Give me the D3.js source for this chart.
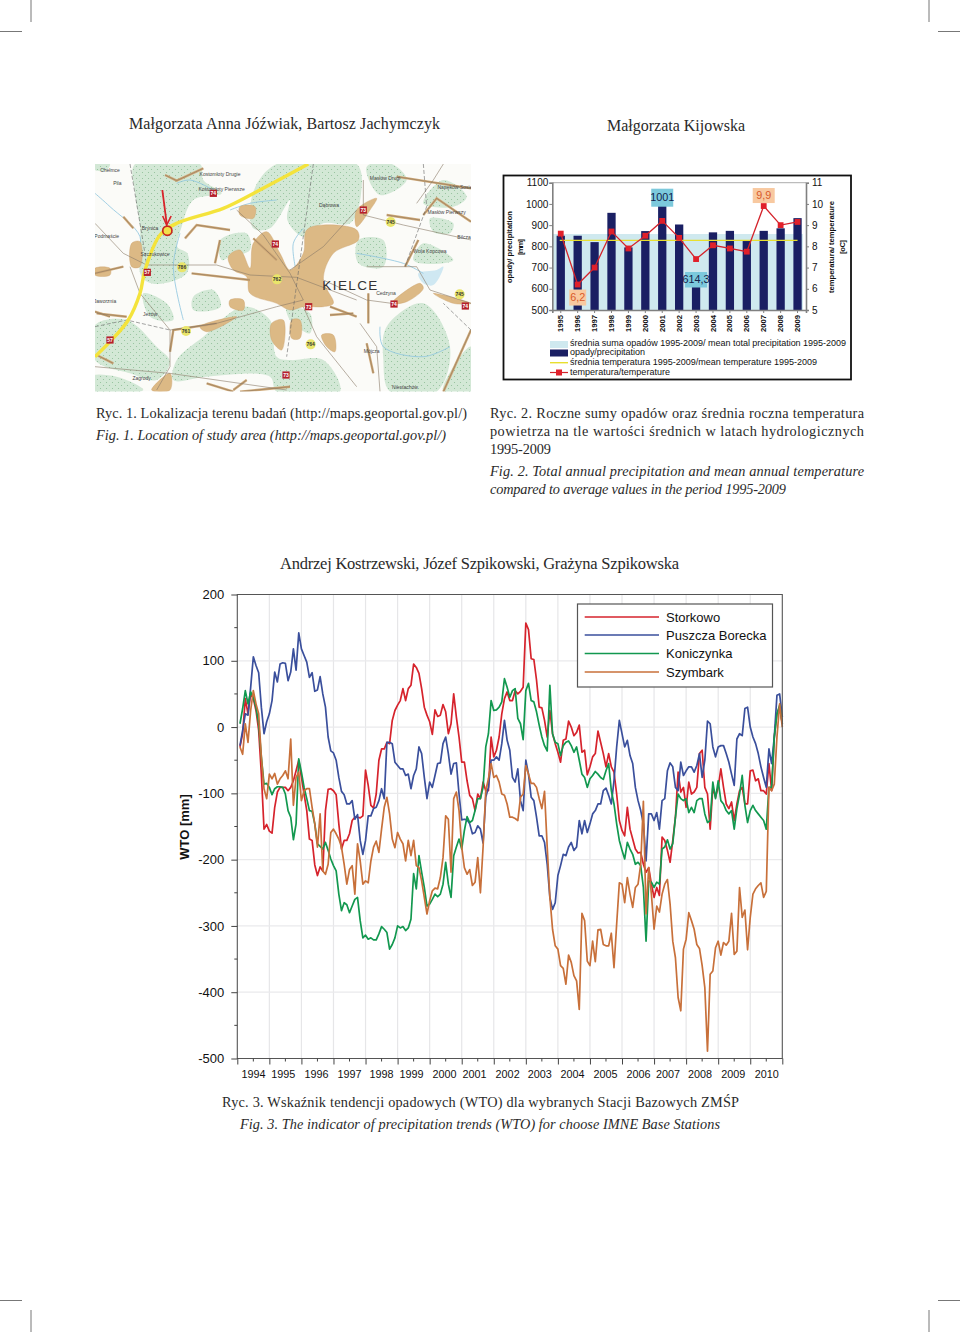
<!DOCTYPE html>
<html><head><meta charset="utf-8">
<style>html,body{margin:0;padding:0;background:#fff}svg{display:block}</style>
<script src="https://cdn.jsdelivr.net/npm/d3@7"></script></head><body>
<svg id="page" width="960" height="1332"></svg>
<script>
// ---------- Fig. 3 data (monthly, mm) ----------
const wtoYears=[1994,1995,1996,1997,1998,1999,2000,2001,2002,2003,2004,2005,2006,2007,2008,2009,2010];
const wtoYearLabelMonth=[4.9,16,28.5,40.8,52.8,64,76.4,87.6,100,112,124.3,136.6,149,160,172,184.5,197];
const wtoStations=["Storkowo","Puszcza Borecka","Koniczynka","Szymbark"];
const storkowo=[-30,-10,43,20,50,43,25,-5,-71,-154,-147,-157,-160,-121,-98,-91,-91,-91,-96,-91,-81,-66,-50,-76,-101,-126,-169,-171,-208,-224,-211,-217,-126,-94,-93,-96,-102,-146,-184,-171,-171,-161,-141,-136,-136,-137,-134,-65,-88,-118,-122,-101,-50,-33,-33,-23,-25,10,25,33,40,58,40,58,63,95,90,81,58,30,18,8,-11,26,16,18,34,23,-10,5,50,15,-15,-53,-53,-81,-103,-108,-126,-101,-108,-83,-96,-96,-15,-45,-35,-15,20,43,53,40,40,55,50,54,60,157,147,103,102,71,30,29,10,-15,25,-10,-25,-38,-53,-20,-18,9,0,-13,-8,3,-38,-35,-72,-60,-45,-40,-6,-23,-40,-60,-40,-60,-68,-101,-141,-156,-164,-121,-154,-169,-184,-190,-189,-207,-219,-212,-237,-257,-242,-254,-166,-171,-186,-204,-171,-136,-68,-98,-91,-121,-83,-101,-98,-91,-40,-35,-91,-101,-154,-91,-106,-91,-63,-91,-116,-123,-113,-141,-116,-96,-91,-116,-116,-66,-65,-81,-78,-96,-96,-101,-55,-96,-15,20,30,5];
const puszczaBorecka=[-28,-5,20,18,60,106,93,82,30,-10,8,20,40,83,68,95,97,96,70,83,118,86,142,118,108,98,75,82,54,56,76,50,30,-15,-36,-39,-50,-76,-97,-102,-116,-116,-111,-139,-132,-171,-192,-171,-134,-134,-123,-121,-111,-93,-108,-23,-23,-25,-53,-58,-63,-63,-73,-71,-93,-73,-63,-30,-40,-76,-108,-83,-91,-73,-55,-54,-25,-15,-40,-71,-55,-54,-101,-140,-139,-140,-146,-161,-159,-149,-154,-175,-106,-91,-50,-50,-45,-50,-25,10,-20,-35,-76,-83,-63,-111,-126,-50,-71,-106,-111,-136,-164,-164,-174,-207,-257,-275,-265,-224,-209,-192,-194,-181,-174,-186,-181,-141,-161,-141,-159,-146,-131,-126,-116,-116,-96,-92,-103,-116,-81,-30,10,-10,-30,-20,-43,-55,-91,-111,-126,-146,-202,-131,-131,-141,-129,-154,-111,-108,-66,-54,-60,-91,-96,-53,-73,-66,-60,-60,-68,-58,-40,-76,-50,9,5,-30,-45,-30,-28,-28,-40,-53,-71,-88,-18,-10,-13,28,30,0,-15,-25,-40,-60,-76,-91,-33,-55,-15,48,50,15];
const koniczynka=[5,28,55,35,53,45,30,5,-45,-86,-85,-91,-102,-93,-90,-90,-91,-101,-126,-136,-170,-146,-48,-68,-91,-108,-126,-127,-146,-176,-180,-184,-174,-186,-199,-209,-217,-252,-277,-265,-268,-280,-270,-260,-257,-292,-318,-314,-320,-318,-321,-321,-312,-301,-305,-310,-335,-328,-318,-300,-303,-301,-307,-303,-290,-221,-244,-194,-219,-242,-270,-267,-260,-252,-256,-252,-237,-204,-237,-257,-194,-181,-169,-184,-156,-135,-144,-141,-126,-108,-108,-91,-30,-10,40,25,26,30,38,73,60,45,55,58,13,5,-19,55,66,40,38,23,3,-15,-28,-36,63,-10,-23,-25,-43,-28,-23,-21,-28,-38,-30,-50,-71,-76,-91,-78,-73,-67,-71,-76,-79,-66,-55,-96,-116,-146,-171,-186,-199,-174,-184,-192,-207,-204,-209,-242,-323,-232,-234,-242,-234,-237,-184,-181,-170,-184,-176,-136,-101,-108,-111,-108,-129,-121,-129,-111,-108,-108,-131,-144,-141,-83,-108,-81,-111,-116,-126,-131,-126,-154,-123,-101,-73,-118,-144,-126,-118,-126,-131,-136,-141,-154,-91,-91,-15,20,33,5];
const szymbark=[-30,-41,5,-23,25,55,35,20,-45,-93,-108,-71,-78,-70,-86,-78,-73,-66,-78,-18,-118,-76,-68,-111,-96,-93,-93,-121,-146,-181,-131,-217,-222,-207,-159,-154,-161,-169,-181,-207,-237,-215,-209,-252,-176,-202,-237,-232,-235,-202,-181,-172,-189,-154,-121,-106,-131,-169,-182,-159,-169,-176,-202,-171,-194,-171,-209,-212,-232,-257,-282,-262,-247,-243,-244,-227,-197,-134,-139,-219,-108,-98,-126,-181,-212,-222,-215,-239,-234,-197,-250,-181,-96,-78,-55,-76,-73,-83,-101,-103,-116,-136,-136,-138,-141,-106,-101,-58,-71,-85,-85,-91,-108,-123,-97,-181,-257,-305,-330,-335,-360,-364,-388,-344,-355,-375,-383,-426,-281,-292,-353,-360,-323,-354,-306,-305,-328,-330,-330,-311,-363,-297,-235,-237,-265,-227,-252,-272,-242,-237,-207,-112,-282,-212,-252,-305,-270,-279,-252,-237,-230,-267,-323,-348,-408,-428,-335,-320,-280,-292,-305,-328,-334,-360,-393,-489,-373,-368,-333,-323,-344,-325,-329,-323,-281,-343,-338,-242,-287,-276,-336,-287,-252,-244,-239,-235,-257,-248,-91,-96,-86,-15,35,0];
const wtoColors=["#d6232c","#3a4f9c","#12984f","#c8703a"];
const wtoTicks=[200,100,0,-100,-200,-300,-400,-500];

// ---------- Fig. 2 data ----------
const hydroYears=["1995","1996","1997","1998","1999","2000","2001","2002","2003","2004","2005","2006","2007","2008","2009"];
const precipitation=[850,850,820,958,795,872,1001,903,614.3,866,873,825,873,885,933];
const temperature=[8.6,6.2,7.0,8.7,7.9,8.5,9.2,8.4,7.4,8.05,7.9,7.75,9.9,9.0,9.15];
const meanPrecipitation=858;
const meanTemperature=8.28;
const precipTicks=[500,600,700,800,900,1000,1100];
const tempTicks=[5,6,7,8,9,10,11];
const legendFig2=["średnia suma opadów 1995-2009/ mean total precipitation 1995-2009","opady/precipitation","średnia temperatura 1995-2009/mean temperature 1995-2009","temperatura/temperature"];

// ---------- Fig. 1 map features (map units) ----------
const forests=[
[[135,12],[330,12],[340,60],[395,100],[310,120],[275,200],[262,260],[292,280],[290,340],[200,372],[155,350],[150,200],[135,100]],
[[490,95],[560,12],[800,12],[812,110],[780,190],[700,190],[640,230],[592,180],[600,120],[540,205],[490,205]],
[[15,495],[110,480],[200,560],[240,605],[200,660],[120,640],[15,600]],
[[250,660],[260,600],[340,530],[460,440],[540,480],[560,590],[600,600],[700,600],[750,695],[560,695],[540,650],[350,650]],
[[890,500],[1000,430],[1080,560],[1040,695],[900,695],[880,600]],
[[805,240],[880,240],[880,320],[805,310]],
[[1090,620],[1143,560],[1143,695],[1060,695]],
[[830,20],[905,12],[950,60],[870,105]],
[[1000,250],[1090,300],[1020,312],[970,300]],
[[310,410],[370,390],[392,440],[310,450]],
[[390,240],[470,220],[480,270],[420,290],[395,300]],
[[1020,175],[1090,190],[1080,220],[1030,215]],
[[15,12],[60,12],[50,30],[15,30]],
[[590,440],[660,460],[660,520],[600,480]],
[[160,400],[230,430],[250,480],[180,470]],
[[1000,130],[1060,60],[1130,110],[1090,140]],
[[0,650],[80,650],[160,690],[15,695]]];
const urban=[
[[415,290],[450,270],[480,325],[490,250],[530,215],[570,280],[600,330],[640,280],[650,210],[700,195],[800,210],[805,240],[730,280],[700,360],[730,430],[700,440],[640,440],[600,450],[560,430],[480,400],[470,350],[430,330]],
[[545,490],[580,480],[575,570],[545,540]],[[605,480],[630,480],[630,535],[605,535]],[[420,420],[460,420],[460,450],[420,440]],
[[695,525],[730,525],[735,575],[710,560]],[[905,430],[990,370],[1000,385],[950,425]],[[1030,400],[1143,430],[1090,430]],
[[330,500],[440,470],[350,515]],[[15,325],[60,325],[60,345],[15,345]],[[125,250],[150,245],[150,320],[125,320]],
[[450,140],[495,140],[490,175],[450,165]],[[800,150],[860,115],[840,150],[800,200]],[[185,690],[240,640],[240,690]]];
const brownRoads=[
[[225,45],[260,62],[340,25]],[[920,50],[1143,85]],[[945,320],[985,240]],[[1000,165],[1040,115],[1143,185]],[[890,165],[990,180]],
[[285,235],[320,195],[420,210]],[[375,310],[390,240]],[[240,575],[250,510],[380,490]],[[830,550],[850,640]],[[1060,695],[1143,510]],
[[350,670],[430,695]],[[450,695],[600,680]],[[835,400],[835,490]],[[720,440],[800,470]],[[20,460],[110,470]],[[100,170],[130,205]],
[[20,585],[70,610]],[[720,465],[790,460]],[[15,340],[100,320]],[[305,340],[480,360]],[[490,235],[560,300]],[[430,690],[470,660]],[[15,455],[60,470]]];
const thinRoads=[
[[170,315],[380,315],[480,345],[620,352],[800,420]],[[440,150],[520,225],[600,340],[640,420]],[[240,510],[380,490],[560,440],[640,420]],
[[820,165],[940,195],[1143,240]],[[830,320],[980,320],[1020,390],[1143,430]],[[640,440],[680,530],[800,680]],[[240,510],[240,620],[200,690]],
[[810,490],[860,560],[870,695]],[[15,620],[240,640],[590,690]],[[15,190],[100,280],[170,315]],[[700,360],[830,420],[905,430]],
[[600,330],[700,260],[800,150]],[[820,60],[820,165]],[[980,130],[1030,60],[1060,12]],[[120,320],[150,400],[240,510]]];
const railLines=[[[670,12],[590,590]],[[120,12],[160,250],[170,315]],[[1000,12],[1010,140],[945,320]],[[1143,510],[1060,430]],[[15,500],[110,480],[240,510]]];
const rivers=[[[15,100],[60,140],[150,230],[140,300]],[[260,70],[300,60],[370,90]],[[270,220],[250,320],[280,480]],[[800,280],[940,310],[1000,340]],[[870,500],[880,560],[1000,590],[1080,560]],[[620,340],[610,250],[640,205]],[[560,120],[480,130],[420,150]]];
const lakeShape=[[985,340],[1040,330],[1060,320],[1030,375],[1000,370]];
const motorway=[[15,590],[60,545],[115,480],[150,400],[165,330],[210,225],[260,190],[400,145],[500,95],[655,12]];
const arrowShaft=[[217,90],[230,190]];
const mapPlaces=[["Chełmce",60,35],["Pila",82,76],["Kostomłoty Drugie",390,47],["Kostomłoty Pierwsze",395,92],["Dąbrowa",717,140],["Masłów Drugi",885,60],["Napęków-Sosie",1095,86],["Masłów Pierwszy",1070,163],["Bilcza",1122,236],["Brynica",180,210],["Podmaście",50,235],["Szczukowice",195,288],["Wola Kopcowa",1020,278],["Jaworznia",45,428],["Jeżów",180,467],["Cedzyna",888,406],["Mójcza",845,578],["Zagrody",155,660],["Niestachów",945,688]];
const mapRedShields=[["74",370,100],["73",820,150],["74",556,252],["57",172,337],["73",656,440],["74",912,432],["74",1126,438],["57",60,540],["73",588,645]];
const mapYellowShields=[["745",902,186],["786",276,322],["762",561,358],["745",1109,403],["761",288,513],["764",662,553]];

// ---------- page ----------
const svg=d3.select("#page");
const ink="#2a2a2a";
const serif="'Liberation Serif',serif", sans="'Liberation Sans',Arial,sans-serif";

// crop marks
[[31,0,31,22],[0,31.5,22,31.5],[929,0,929,22],[938,31.5,960,31.5],[31,1310,31,1332],[0,1300.5,22,1300.5],[929,1310,929,1332],[938,1300.5,960,1300.5]]
 .forEach(([a,b,c,d])=>svg.append("line").attr("x1",a).attr("y1",b).attr("x2",c).attr("y2",d).attr("stroke","#777").attr("stroke-width",1));

// running text
const texts=[
["Małgorzata Anna Jóźwiak, Bartosz Jachymczyk",129,129,311,16,0],
["Małgorzata Kijowska",607,131,138,16,0],
["Ryc. 1. Lokalizacja terenu badań (http://maps.geoportal.gov.pl/)",96,417.5,371,14.3,0],
["Fig. 1. Location of study area (http://maps.geoportal.gov.pl/)",96,440,350,14.3,1],
["Ryc. 2. Roczne sumy opadów oraz średnia roczna temperatura",490,417.5,374,14.3,0],
["powietrza na tle wartości średnich w latach hydrologicznych",490,435.5,374,14.3,0],
["1995-2009",490,453.5,61,14.3,0],
["Fig. 2. Total annual precipitation and mean annual temperature",490,476,374,14.3,1],
["compared to average values in the period 1995-2009",490,494,296,14.3,1],
["Andrzej Kostrzewski, Józef Szpikowski, Grażyna Szpikowska",280,569,399,16.5,0],
["Ryc. 3. Wskaźnik tendencji opadowych (WTO) dla wybranych Stacji Bazowych ZMŚP",222,1107,517,14.3,0],
["Fig. 3. The indicator of precipitation trends (WTO) for choose IMNE Base Stations",240,1129,480,14.3,1]];
svg.append("g").selectAll("text").data(texts).join("text")
 .attr("x",d=>d[1]).attr("y",d=>d[2]).attr("textLength",d=>d[3]).attr("lengthAdjust","spacing")
 .attr("font-family",serif).attr("font-size",d=>d[4]).attr("font-style",d=>d[5]?"italic":"normal")
 .attr("fill",ink).text(d=>d[0]);

// ---------- Fig. 1 map ----------
(function(){
 const defs=svg.append("defs");
 const pat=defs.append("pattern").attr("id","stipple").attr("width",6).attr("height",6).attr("patternUnits","userSpaceOnUse");
 pat.append("rect").attr("width",6).attr("height",6).attr("fill","#d3e8d6");
 pat.append("circle").attr("cx",1.5).attr("cy",1.5).attr("r",.55).attr("fill","#8fbf98");
 pat.append("circle").attr("cx",4.5).attr("cy",4.5).attr("r",.55).attr("fill","#8fbf98");
 defs.append("filter").attr("id","soft").append("feGaussianBlur").attr("stdDeviation",.4);
 defs.append("clipPath").attr("id","mapClip").append("rect").attr("x",95).attr("y",164).attr("width",376).attr("height",227.5);
 const mx=d3.scaleLinear().domain([15,1143]).range([95,471]), my=d3.scaleLinear().domain([12,695]).range([164,391.7]);
 const ln=d3.line().x(d=>mx(d[0])).y(d=>my(d[1]));
 const cv=d3.line().x(d=>mx(d[0])).y(d=>my(d[1])).curve(d3.curveCatmullRom);
 const blob=d3.line().x(d=>mx(d[0])).y(d=>my(d[1])).curve(d3.curveCatmullRomClosed.alpha(.5));
 const g=svg.append("g").attr("clip-path","url(#mapClip)");
 const inner=g.append("g").attr("filter","url(#soft)");
 inner.append("rect").attr("x",95).attr("y",164).attr("width",376).attr("height",227.5).attr("fill","#fbfbf8");
 inner.selectAll(".f").data(forests).join("path").attr("d",blob).attr("fill","url(#stipple)");
 inner.append("path").attr("d",blob(lakeShape)).attr("fill","#cfe8f2");
 inner.selectAll(".r").data(rivers).join("path").attr("d",cv).attr("fill","none").attr("stroke","#8cc4de").attr("stroke-width",.8);
 inner.selectAll(".u").data(urban).join("path").attr("d",blob).attr("fill","#dcb985").attr("stroke","#c9a06a").attr("stroke-width",.4);
 inner.selectAll(".b").data(brownRoads).join("path").attr("d",ln).attr("fill","none").attr("stroke","#cfa877").attr("stroke-width",2.4);
 inner.selectAll(".b2").data(brownRoads).join("path").attr("d",ln).attr("fill","none").attr("stroke","#7d6a55").attr("stroke-width",.5);
 inner.selectAll(".t").data(thinRoads).join("path").attr("d",ln).attr("fill","none").attr("stroke","#8a7a68").attr("stroke-width",.6);
 inner.selectAll(".d").data(railLines).join("path").attr("d",ln).attr("fill","none").attr("stroke","#666").attr("stroke-width",.6).attr("stroke-dasharray","4 2");
 inner.append("path").attr("d",cv(motorway)).attr("fill","none").attr("stroke","#f4e33a").attr("stroke-width",3.4);
 g.selectAll(".p").data(mapPlaces).join("text").attr("x",d=>mx(d[1])).attr("y",d=>my(d[2])).attr("text-anchor","middle")
  .attr("font-family",sans).attr("font-size",5).attr("fill","#444").text(d=>d[0]);
 g.append("text").attr("x",mx(697)).attr("y",my(390)).attr("textLength",55).attr("font-family",sans).attr("font-size",13.5).attr("fill","#333").text("KIELCE");
 g.selectAll(".rs").data(mapRedShields).join("g").attr("transform",d=>`translate(${mx(d[1])},${my(d[2])})`).each(function(d){
  const s=d3.select(this);
  s.append("rect").attr("x",-3.6).attr("y",-3.6).attr("width",7.2).attr("height",7.2).attr("fill","#b5202c");
  s.append("text").attr("text-anchor","middle").attr("y",2).attr("font-family",sans).attr("font-size",5).attr("font-weight","bold").attr("fill","#fff").text(d[0]);
 });
 g.selectAll(".ys").data(mapYellowShields).join("g").attr("transform",d=>`translate(${mx(d[1])},${my(d[2])})`).each(function(d){
  const s=d3.select(this);
  s.append("circle").attr("r",5).attr("fill","#e9e56a");
  s.append("text").attr("text-anchor","middle").attr("y",2).attr("font-family",sans).attr("font-size",5).attr("font-weight","bold").attr("fill","#333").text(d[0]);
 });
 g.append("path").attr("d",ln(arrowShaft)).attr("stroke","#d8232a").attr("stroke-width",1.8).attr("fill","none");
 const tipx=mx(230),tipy=my(195);
 g.append("path").attr("d",d3.line()([[tipx-4,tipy-9],[tipx,tipy],[tipx+4.5,tipy-9]])).attr("stroke","#d8232a").attr("stroke-width",1.6).attr("fill","none");
 g.append("circle").attr("cx",mx(232)).attr("cy",my(212)).attr("r",4.6).attr("fill","#f2e04a").attr("stroke","#c8281e").attr("stroke-width",1.7);
})();

// ---------- Fig. 2 combo chart ----------
(function(){
 const L=552.3,R=806,T=182.7,B=310;
 svg.append("rect").attr("x",503.5).attr("y",175.5).attr("width",347.5).attr("height",204).attr("fill","#fff").attr("stroke","#111").attr("stroke-width",1.8);
 const x=d3.scaleBand().domain(hydroYears).range([L,R]).paddingInner(.51).paddingOuter(.255);
 const y=d3.scaleLinear().domain([500,1100]).range([B,T]);
 const y2=d3.scaleLinear().domain([5,11]).range([B,T]);
 const cx=d=>x(d)+x.bandwidth()/2;
 const g=svg.append("g");
 g.append("rect").attr("x",L).attr("y",y(meanPrecipitation)).attr("width",R-L-3).attr("height",y(500)-y(meanPrecipitation)).attr("fill","#cfe9ef");
 g.selectAll(".bar").data(hydroYears).join("rect").attr("x",d=>x(d)).attr("width",x.bandwidth())
  .attr("y",(d,i)=>y(precipitation[i])).attr("height",(d,i)=>y(500)-y(precipitation[i])).attr("fill","#1a1f63");
 g.append("line").attr("x1",cx(hydroYears[0])-1).attr("x2",cx(hydroYears[14])).attr("y1",y2(meanTemperature)).attr("y2",y2(meanTemperature)).attr("stroke","#e8df2f").attr("stroke-width",1.4);
 const tline=d3.line().x((d,i)=>cx(hydroYears[i])).y(d=>y2(d));
 g.append("path").attr("d",tline(temperature)).attr("fill","none").attr("stroke","#d4232b").attr("stroke-width",1.3);
 g.selectAll(".sq").data(temperature).join("rect").attr("x",(d,i)=>cx(hydroYears[i])-2.9).attr("y",d=>y2(d)-2.9).attr("width",5.8).attr("height",5.8).attr("fill","#e0202a");
 g.append("path").attr("d",`M${L},${T}H${R}`).attr("stroke","#888").attr("stroke-width",.7).attr("fill","none");
 const lax=g.append("g").attr("transform",`translate(${L},0)`).call(d3.axisLeft(y).tickValues(precipTicks).tickSize(3).tickPadding(1).tickFormat(d3.format("d")));
 const rax=g.append("g").attr("transform",`translate(${R},0)`).call(d3.axisRight(y2).tickValues(tempTicks).tickSize(3).tickFormat(d3.format("d")));
 const bax=g.append("g").attr("transform",`translate(0,${B})`).call(d3.axisBottom(x).tickSize(3));
 [lax,rax,bax].forEach(a=>{a.selectAll("path").attr("stroke","#808080").attr("stroke-width",1.6);a.selectAll("line").attr("stroke","#808080");
  a.selectAll("text").attr("font-family",sans).attr("fill","#111");});
 lax.selectAll("text").attr("font-size",10); rax.selectAll("text").attr("font-size",10);
 bax.selectAll("text").attr("font-size",7.6).attr("font-weight","bold").attr("text-anchor","end").attr("transform","rotate(-90)").attr("x",-5).attr("y",2.6).attr("dy",0);
 const rot=(t,px,py,n)=>g.append("text").attr("transform",`translate(${px},${py}) rotate(-90)`).attr("text-anchor","middle")
   .attr("font-family",sans).attr("font-size",7.6).attr("font-weight","bold").attr("fill","#111").attr("textLength",n).text(t);
 rot("opady/ precipitation",512,247,72); rot("[mm]",523,247,16);
 rot("temperatura/ temperature",834,247,92); rot("[oC]",845,247,14);
 const box=(yr,val,py,w,h,fill,col)=>{const c=cx(yr);
  g.append("rect").attr("x",c-w/2).attr("y",py-h/2).attr("width",w).attr("height",h).attr("fill",fill);
  g.append("text").attr("x",c).attr("y",py+3.7).attr("text-anchor","middle").attr("font-family",sans).attr("font-size",10.8).attr("fill",col).text(val);};
 box("2001","1001",y(1001)-6,22,18,"#7cc9dc","#12224a");
 box("2003","614,3",y(614.3)-6,22,15.5,"#7cc9dc","#12224a");
 box("2007","9,9",y2(9.9)-10.5,22,15,"#f8c9a0","#d85a2a");
 box("1996","6,2",y2(6.2)+13,17,16,"#f8c9a0","#d85a2a");
 const lg=[346,354.5,365,374.5];
 g.selectAll(".lt").data(legendFig2).join("text").attr("x",570).attr("y",(d,i)=>lg[i]).attr("font-family",sans).attr("font-size",9).attr("fill","#111")
  .attr("textLength",(d,i)=>[276,75,247,100][i]).text(d=>d);
 g.append("rect").attr("x",550).attr("y",341).attr("width",18).attr("height",7).attr("fill","#cfe9ef");
 g.append("rect").attr("x",550).attr("y",349.5).attr("width",18).attr("height",7).attr("fill","#1a1f63");
 g.append("line").attr("x1",550).attr("x2",568).attr("y1",362.7).attr("y2",362.7).attr("stroke","#e8df2f").attr("stroke-width",1.4);
 g.append("line").attr("x1",550).attr("x2",568).attr("y1",372.5).attr("y2",372.5).attr("stroke","#d4232b").attr("stroke-width",1.2);
 g.append("rect").attr("x",556).attr("y",369.5).attr("width",6).attr("height",6).attr("fill","#e0202a");
})();

// ---------- Fig. 3 WTO chart ----------
(function(){
 const L=237.3,R=782.3,T=594.5,B=1058.5;
 const x=d3.scaleLinear().domain([-1,203]).range([L,R]);
 const y=d3.scaleLinear().domain([-500,200]).range([B,T]);
 const g=svg.append("g");
 const majorX=wtoYears.map((d,i)=>i*12-1), minorX=wtoYears.map((d,i)=>i*12+5), gridY=wtoTicks, minorY=wtoTicks.slice(0,-1).map(d=>d-50);
 g.selectAll(".gx").data(majorX.slice(1)).join("line").attr("x1",x).attr("x2",x).attr("y1",T).attr("y2",B).attr("stroke","#e6e6e8").attr("stroke-width",1.2);
 g.selectAll(".gy").data(gridY.slice(1,-1)).join("line").attr("x1",L).attr("x2",R).attr("y1",y).attr("y2",y).attr("stroke","#eaeaec").attr("stroke-width",1.2);
 const line=d3.line().x((d,i)=>x(i)).y(d=>y(d));
 [storkowo,puszczaBorecka,koniczynka,szymbark].forEach((s,k)=>{
  g.append("path").attr("d",line(s)).attr("fill","none").attr("stroke",wtoColors[k]).attr("stroke-width",1.7).attr("stroke-linejoin","round");
 });
 g.append("path").attr("d",`M${L},${T}H${R}V${B}H${L}Z`).attr("fill","none").attr("stroke","#555").attr("stroke-width",1.1);
 const ly=g.append("g").attr("transform",`translate(${L},0)`).call(d3.axisLeft(y).tickValues(wtoTicks).tickSize(6).tickPadding(7).tickFormat(d=>String(d)));
 ly.select(".domain").remove(); ly.selectAll("line").attr("stroke","#444");
 ly.selectAll("text").attr("font-family",sans).attr("font-size",13).attr("fill","#111");
 g.selectAll(".my").data(minorY).join("line").attr("x1",L-3).attr("x2",L).attr("y1",y).attr("y2",y).attr("stroke","#444");
 g.append("g").attr("transform",`translate(0,${B})`).call(d3.axisBottom(x).tickValues(majorX.concat([203])).tickSize(6).tickFormat(""))
  .call(a=>{a.select(".domain").remove();a.selectAll("line").attr("stroke","#444");});
 g.selectAll(".mx").data(minorX).join("line").attr("x1",x).attr("x2",x).attr("y1",B).attr("y2",B+3).attr("stroke","#444");
 const lb=g.append("g").attr("transform",`translate(0,${B})`).call(d3.axisBottom(x).tickValues(wtoYearLabelMonth).tickSize(0).tickPadding(11.5)
   .tickFormat((d,i)=>wtoYears[i]));
 lb.select(".domain").remove();
 lb.selectAll("text").attr("font-family",sans).attr("font-size",10.8).attr("fill","#111");
 g.append("text").attr("transform","translate(189,827) rotate(-90)").attr("text-anchor","middle").attr("font-family",sans).attr("font-size",13).attr("font-weight","bold").attr("fill","#111").text("WTO [mm]");
 const lgd=g.append("g");
 lgd.append("rect").attr("x",577.5).attr("y",604).attr("width",195).attr("height",83).attr("fill","#fff").attr("stroke","#555").attr("stroke-width",1.2);
 const ly0=[617,635,653.5,672];
 wtoStations.forEach((s,i)=>{
  lgd.append("line").attr("x1",584.7).attr("x2",659).attr("y1",ly0[i]).attr("y2",ly0[i]).attr("stroke",wtoColors[i]).attr("stroke-width",1.5);
  lgd.append("text").attr("x",666).attr("y",ly0[i]+4.6).attr("font-family",sans).attr("font-size",13).attr("fill","#111").text(s);
 });
})();
</script></body></html>
